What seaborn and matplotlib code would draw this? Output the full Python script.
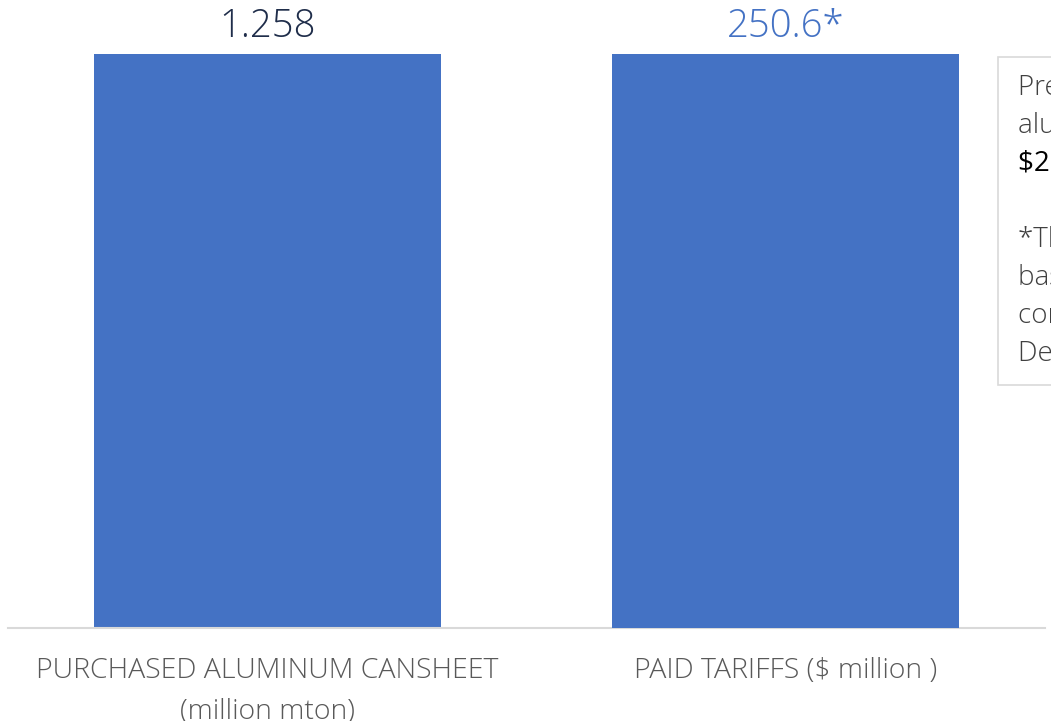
import matplotlib
matplotlib.use("Agg")
import matplotlib.pyplot as plt
import seaborn as sns
import pandas as pd

# data
categories = ["PURCHASED ALUMINUM CANSHEET\n(million mton)", "PAID TARIFFS ($ million )"]
values = [1.258, 250.6]
value_labels = ["1.258", "250.6*"]
label_colors = ["#1F2D4A", "#4472C4"]
note_lines = ["Premium paid on", "aluminum cansheet:", "$250.6 million", "",
              "*The estimate is", "based on purchased", "consumption to", "December 2018"]

sns.set_theme(style="white")
plt.rcParams["font.family"] = ["Open Sans", "DejaVu Sans"]

fig = plt.figure(figsize=(10.51, 7.21), dpi=100)
ax = fig.add_axes([8 / 1051, 93 / 721, 1037 / 1051, 574 / 721])
ax2 = ax.twinx()

df = pd.DataFrame({"category": categories, "value": values})
bar_color = "#4472C4"

# each bar on its own scale (primary / secondary axis)
sns.barplot(data=df.iloc[[0]], x="category", y="value", order=categories,
            color=bar_color, width=0.67, saturation=1, linewidth=0, ax=ax)
sns.barplot(data=df.iloc[[1]], x="category", y="value", order=categories,
            color=bar_color, width=0.67, saturation=1, linewidth=0, ax=ax2)

ax.set_ylim(0, values[0])
ax2.set_ylim(0, values[1])
ax.set_xlim(-0.5, 1.5)

for a in (ax, ax2):
    a.set_ylabel("")
    a.set_xlabel("")
    a.set_yticks([])
    for s in a.spines.values():
        s.set_visible(False)
ax.spines["bottom"].set_visible(True)
ax.spines["bottom"].set_color("#D9D9D9")
ax.spines["bottom"].set_linewidth(1.5)

ax.tick_params(axis="x", length=0, pad=21)
ax.set_xticks(range(len(categories)))
ax.set_xticklabels(categories, fontsize=20.5, color="#595959", fontweight="light",
                   linespacing=1.6)

# value labels above bars
for i, (lab, col) in enumerate(zip(value_labels, label_colors)):
    fig.text((8 + 1037 * (0.25 + 0.5 * i)) / 1051, 1 - 27 / 721, lab,
             ha="center", va="center", fontsize=27.5, color=col, fontweight="light")

# note box on the right, clipped by the figure edge
box = plt.Rectangle((998 / 1051, 1 - 385 / 721), 200 / 1051, 328 / 721,
                    transform=fig.transFigure, facecolor="white",
                    edgecolor="#D9D9D9", linewidth=1.2)
fig.patches.append(box)
for j, line in enumerate(note_lines):
    fig.text(1018 / 1051, 1 - (88 + 38 * j) / 721, line, ha="left", va="center",
             fontsize=20, color="#000000" if j == 2 else "#404040",
             fontweight="normal" if j == 2 else "light")

fig.savefig("out.png", dpi=100)
